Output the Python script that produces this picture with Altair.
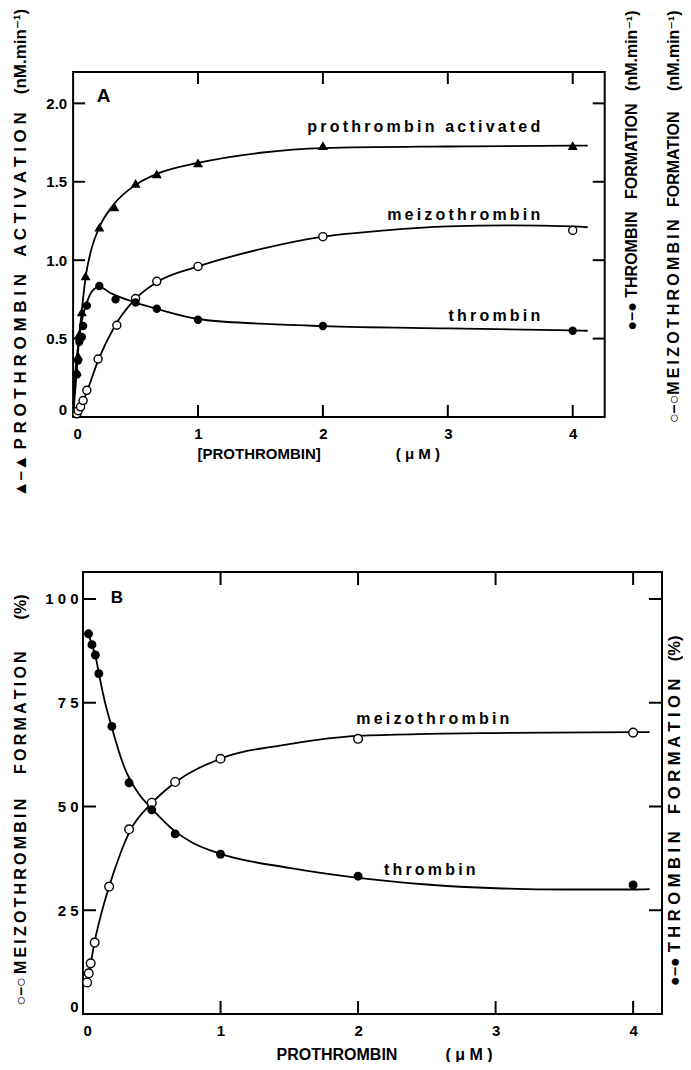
import altair as alt
import pandas as pd

FONT = "Liberation Sans, DejaVu Sans, sans-serif"

# ---------------- Panel A data (nM.min-1) ----------------
A_tri_x = [0.03, 0.04, 0.05, 0.07, 0.10, 0.21, 0.33, 0.50, 0.67, 1.0, 2.0, 4.0]
A_tri_y = [0.29, 0.39, 0.53, 0.67, 0.90, 1.21, 1.34, 1.49, 1.55, 1.62, 1.73, 1.73]
A_thr_x = [0.03, 0.04, 0.05, 0.07, 0.08, 0.11, 0.21, 0.34, 0.50, 0.67, 1.0, 2.0, 4.0]
A_thr_y = [0.27, 0.36, 0.48, 0.51, 0.58, 0.71, 0.835, 0.75, 0.73, 0.69, 0.62, 0.58, 0.55]
A_mei_x = [0.03, 0.04, 0.06, 0.08, 0.11, 0.20, 0.35, 0.50, 0.67, 1.0, 2.0, 4.0]
A_mei_y = [0.02, 0.04, 0.065, 0.105, 0.17, 0.37, 0.585, 0.755, 0.865, 0.96, 1.15, 1.19]

# fitted curves
A_tri_cx = [0, 0.03, 0.05, 0.07, 0.10, 0.15, 0.21, 0.33, 0.50, 0.67, 1.0, 1.5, 2.0, 3.0, 4.0, 4.12]
A_tri_cy = [0, 0.30, 0.52, 0.68, 0.89, 1.08, 1.21, 1.36, 1.48, 1.55, 1.62, 1.685, 1.715, 1.725, 1.73, 1.73]
A_thr_cx = [0, 0.02, 0.04, 0.06, 0.08, 0.11, 0.15, 0.21, 0.30, 0.50, 0.67, 1.0, 1.5, 2.0, 3.0, 4.0, 4.12]
A_thr_cy = [0, 0.30, 0.45, 0.57, 0.65, 0.73, 0.80, 0.83, 0.79, 0.73, 0.69, 0.625, 0.595, 0.58, 0.565, 0.552, 0.55]
A_mei_cx = [0, 0.05, 0.10, 0.20, 0.33, 0.50, 0.67, 1.0, 1.5, 2.0, 2.5, 3.0, 3.5, 4.0, 4.12]
A_mei_cy = [0, 0.05, 0.14, 0.36, 0.575, 0.755, 0.86, 0.96, 1.07, 1.15, 1.19, 1.215, 1.222, 1.215, 1.21]

A_lab_x = [3.74, 3.74, 3.74]
A_lab_y = [1.848, 1.286, 0.642]
A_lab_t = ["prothrombin activated", "meizothrombin", "thrombin"]

A_xvals = [0, 1, 2, 3, 4]
A_xticks = [1, 2, 3, 4]
A_yvals = [0, 0.5, 1.0, 1.5, 2.0]
A_yticks = [0.5, 1.0, 1.5, 2.0]

# ---------------- Panel B data (%) ----------------
B_thr_x = [0.04, 0.065, 0.09, 0.115, 0.21, 0.335, 0.50, 0.67, 1.0, 2.0, 4.0]
B_thr_y = [91.6, 89.0, 86.5, 82.0, 69.3, 55.7, 49.2, 43.4, 38.5, 33.2, 31.1]
B_mei_x = [0.03, 0.042, 0.056, 0.085, 0.19, 0.335, 0.50, 0.67, 1.0, 2.0, 4.0]
B_mei_y = [7.6, 9.8, 12.2, 17.2, 30.7, 44.5, 50.9, 55.9, 61.5, 66.3, 67.8]

B_thr_cx = [0.04, 0.065, 0.09, 0.115, 0.15, 0.21, 0.30, 0.40, 0.50, 0.67, 0.80, 1.0, 1.5, 2.0, 2.5, 3.0, 3.5, 4.0, 4.12]
B_thr_cy = [91.6, 89.0, 86.3, 82.2, 76.5, 69.0, 59.5, 53.3, 49.5, 44.0, 41.2, 38.6, 35.2, 32.8, 31.2, 30.3, 30.0, 30.0, 30.1]
B_mei_cx = [0.03, 0.042, 0.056, 0.085, 0.12, 0.19, 0.27, 0.34, 0.50, 0.67, 1.0, 1.5, 2.0, 3.0, 4.0, 4.12]
B_mei_cy = [7.6, 9.8, 12.2, 17.5, 22.5, 30.7, 38.5, 44.0, 50.8, 55.8, 61.5, 65.0, 67.0, 67.7, 67.9, 67.9]

B_lab_x = [3.10, 2.855]
B_lab_y = [71.1, 34.7]
B_lab_t = ["meizothrombin", "thrombin"]

B_xvals = [0, 1, 2, 3, 4]
B_xticks = [1, 2, 3, 4]
B_yvals = [0, 25, 50, 75, 100]
B_yticks = [25, 50, 75, 100]


def spaced(words, gap, word_gap):
    return word_gap.join(gap.join(w) for w in words)


def lspace(s):
    return "\u2009".join(s)


WG = " \u2002 "
WG2 = " \u2003 "
A_left_title = "\u25b2\u2013\u25b2 " + spaced(["PROTHROMBIN", "ACTIVATION"], " ", WG) + WG + "(nM.min\u207b\u00b9)"
A_right_title = [
    "\u25cf\u2013\u25cf THROMBIN\u2002 FORMATION\u2002 (nM.min\u207b\u00b9)",
    "\u25cb\u2013\u25cb" + lspace("MEIZOTHROMBIN") + "\u2002 FORMATION\u2003 (nM.min\u207b\u00b9)",
]
A_x_title = "[PROTHROMBIN]\u2003\u2003\u2003\u2003\u2003( \u03bc M )"
B_left_title = "\u25cb\u2013\u25cb\u2009" + spaced(["MEIZOTHROMBIN", "FORMATION"], "\u2009", WG2) + "\u2003\u2003(%)"
B_right_title = "\u25cf\u2013\u25cf " + spaced(["THROMBIN", "FORMATION"], " ", WG) + WG + "(%)"
B_x_title = "PROTHROMBIN\u2003\u2003\u2003( \u03bc M )"

# geometry: both panels share the same view origin; panel A's frame starts DXA px left of it
DXA = -9.9
WA, HA = 521.7, 345
WB, HB = 579, 442

common_axis = dict(
    ticks=False, domain=False, grid=False,
    labelFont=FONT, labelFontSize=15, labelFontWeight="bold", labelColor="black",
    titleFont=FONT, titleFontWeight="bold", titleColor="black",
)


def pts(xs, ys):
    return pd.DataFrame({"x": xs, "y": ys})


def curves(pairs):
    frames = []
    for name, xs, ys in pairs:
        frames.append(pd.DataFrame({"x": xs, "y": ys, "s": name}))
    return pd.concat(frames, ignore_index=True)


def build_panel(W, H, x0, xdom, ydom, xaxis, yleft, yright, curve_df, tri, filled, opened,
                xticks, yticks, labels, letter, letter_pos, letter_size, tick_len, psize):
    xs = alt.Scale(domain=xdom, range=[x0, W], nice=False, zero=False)
    ys = alt.Scale(domain=ydom, nice=False, zero=False)
    X = alt.X("x:Q", scale=xs, axis=xaxis)
    Yl = alt.Y("y:Q", scale=ys, axis=yleft)
    Yr = alt.Y("y:Q", scale=ys, axis=yright)
    Yn = alt.Y("y:Q", scale=ys, axis=None)

    one = pd.DataFrame({"k": [0]})
    layers = []
    layers.append(
        alt.Chart(one).mark_rect(fill="white", fillOpacity=0, stroke="black", strokeWidth=2)
        .encode(x=alt.value(x0), x2=alt.value(W), y=alt.value(0), y2=alt.value(H))
    )
    layers.append(
        alt.Chart(curve_df).mark_line(interpolate="monotone", color="black", strokeWidth=1.8)
        .encode(x=X, y=Yl, detail="s:N")
    )
    if tri is not None:
        layers.append(
            alt.Chart(tri).mark_point(shape="triangle-up", filled=True, color="black",
                                      size=100, opacity=1)
            .encode(x=X, y=Yn)
        )
    layers.append(
        alt.Chart(opened).mark_point(shape="circle", filled=True, fill="white", stroke="black",
                                     strokeWidth=1.4, size=psize - 5, opacity=1)
        .encode(x=X, y=Yn)
    )
    layers.append(
        alt.Chart(filled).mark_circle(color="black", size=psize, opacity=1)
        .encode(x=X, y=Yn)
    )
    ytk = pd.DataFrame({"y": yticks})
    xtk = pd.DataFrame({"x": xticks})
    layers.append(alt.Chart(ytk).mark_rule(color="black", strokeWidth=2)
                  .encode(y=Yn, x=alt.value(x0), x2=alt.value(x0 + tick_len)))
    layers.append(alt.Chart(ytk).mark_rule(color="black", strokeWidth=2)
                  .encode(y=Yr, x=alt.value(W - tick_len), x2=alt.value(W)))
    layers.append(alt.Chart(xtk).mark_rule(color="black", strokeWidth=2)
                  .encode(x=X, y=alt.value(0), y2=alt.value(tick_len)))
    layers.append(alt.Chart(xtk).mark_rule(color="black", strokeWidth=2)
                  .encode(x=X, y=alt.value(H - tick_len), y2=alt.value(H)))
    layers.append(
        alt.Chart(labels).mark_text(align="right", baseline="middle", font=FONT,
                                    fontSize=16, fontWeight="bold", color="black")
        .encode(x=X, y=Yn, text="t:N")
    )
    layers.append(
        alt.Chart(pd.DataFrame({"t": [letter]})).mark_text(
            align="left", baseline="middle", font=FONT, fontSize=letter_size,
            fontWeight="bold", color="black")
        .encode(text="t:N", x=alt.value(letter_pos[0]), y=alt.value(letter_pos[1]))
    )
    return alt.layer(*layers).resolve_axis(y="independent").properties(width=W, height=H)


# ---------------- Panel A ----------------
axA_x = alt.Axis(values=A_xvals, format="d", labelFlush=True, labelPadding=9,
                 title=A_x_title, titleFontSize=15, titleX=235.2, titleY=36.5,
                 titleAlign="center", titleBaseline="middle", **common_axis)
axA_l = alt.Axis(values=A_yvals, labelExpr="datum.value == 0 ? '0' : format(datum.value, '.1f')",
                 labelFlush=True, labelPadding=16.3,
                 title=A_left_title, titleFontSize=17, titleAngle=270, titleAlign="right",
                 titleBaseline="middle", titleX=-62.3, titleY=-63.7, **common_axis)
axA_r = alt.Axis(orient="right", labels=False, values=A_yvals,
                 title=A_right_title, titleFontSize=16, titleAngle=270, titleAlign="right",
                 titleBaseline="alphabetic", titleX=32, titleY=-62, titleLineHeight=42,
                 **common_axis)

panelA = build_panel(
    WA, HA, DXA, [0, 4.256], [0, 2.2], axA_x, axA_l, axA_r,
    curves([("prothrombin", A_tri_cx, A_tri_cy), ("thrombin", A_thr_cx, A_thr_cy),
            ("meizothrombin", A_mei_cx, A_mei_cy)]),
    pts(A_tri_x, A_tri_y), pts(A_thr_x, A_thr_y), pts(A_mei_x, A_mei_y),
    A_xticks, A_yticks,
    pd.DataFrame({"x": A_lab_x, "y": A_lab_y, "t": [lspace(t) for t in A_lab_t]}),
    "A", (13.7, 23.5), 19, 12, 70,
)

# ---------------- Panel B ----------------
axB_x = alt.Axis(values=B_xvals, format="d", labelFlush=True, labelPadding=9,
                 title=B_x_title, titleFontSize=16, titleX=301, titleY=40,
                 titleAlign="center", titleBaseline="middle", **common_axis)
axB_l = alt.Axis(values=B_yvals, labelExpr="join(split(datum.label, ''), ' ')",
                 labelFlush=True, labelPadding=5,
                 title=B_left_title, titleFontSize=16, titleAngle=270, titleAlign="right",
                 titleBaseline="middle", titleX=-62.3, titleY=22, **common_axis)
axB_r = alt.Axis(orient="right", labels=False, values=B_yvals,
                 title=B_right_title, titleFontSize=16.5, titleAngle=270, titleAlign="right",
                 titleBaseline="alphabetic", titleX=17, titleY=63, **common_axis)

panelB = build_panel(
    WB, HB, 0, [0, 4.21], [0, 106.5], axB_x, axB_l, axB_r,
    curves([("thrombin", B_thr_cx, B_thr_cy), ("meizothrombin", B_mei_cx, B_mei_cy)]),
    None, pts(B_thr_x, B_thr_y), pts(B_mei_x, B_mei_y),
    B_xticks, B_yticks,
    pd.DataFrame({"x": B_lab_x, "y": B_lab_y, "t": [lspace(t) for t in B_lab_t]}),
    "B", (27.7, 26), 17, 13, 80,
)

chart = (
    alt.vconcat(panelA, panelB, spacing=71)
    .properties(padding={"left": 3, "top": 0, "right": 0, "bottom": 0}, background="white")
    .configure_view(strokeWidth=0)
)

chart.save("out.html", embed_options={"renderer": "svg", "actions": False})
